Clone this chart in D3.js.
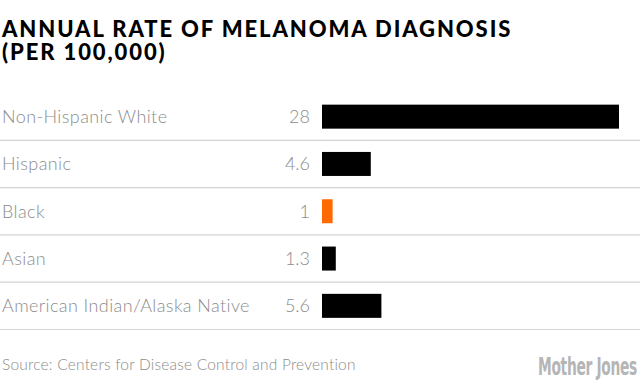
<!DOCTYPE html>
<html>
<head>
<meta charset="utf-8">
<script src="https://cdn.jsdelivr.net/npm/d3@7"></script>
<style>
  body { margin: 0; background: #fff; }
</style>
</head>
<body>
<div id="chart"></div>
<script>
const groups = ["Non-Hispanic White", "Hispanic", "Black", "Asian", "American Indian/Alaska Native"];
const rates = [28, 4.6, 1, 1.3, 5.6];
const rateLabels = ["28", "4.6", "1", "1.3", "5.6"];
const highlight = ["Black"];
const titleLines = ["ANNUAL RATE OF MELANOMA DIAGNOSIS", "(PER 100,000)"];

const width = 642, height = 389;

const svg = d3.select("#chart").append("svg")
  .attr("width", width)
  .attr("height", height);

// title, one text per line
svg.selectAll(".title")
  .data(titleLines)
  .join("text")
  .attr("class", "title")
  .attr("x", 2)
  .attr("y", (d, i) => 36.5 + i * 23)
  .attr("font-family", "Lato")
  .attr("font-weight", 900)
  .attr("font-size", 22)
  .attr("letter-spacing", 1.9)
  .attr("fill", "#000")
  .text(d => d);

// scales
const y = d3.scaleBand()
  .domain(groups)
  .range([93, 329.5])
  .paddingInner(0);

const x = d3.scaleLinear()
  .domain([0, 28])
  .range([322, 619]);

const barH = 24;

const rows = svg.append("g")
  .selectAll("g")
  .data(groups)
  .join("g")
  .attr("transform", d => `translate(0,${y(d)})`);

rows.append("line")
  .attr("x1", 0)
  .attr("x2", 640)
  .attr("y1", y.bandwidth())
  .attr("y2", y.bandwidth())
  .attr("stroke", "#d4d4d4")
  .attr("stroke-width", 1.2);

rows.append("text")
  .attr("x", 2)
  .attr("y", y.bandwidth() / 2 + 6.5)
  .attr("font-family", "Lato")
  .attr("font-weight", 300)
  .attr("font-size", 18)
  .attr("letter-spacing", 0.4)
  .attr("fill", "#8c8c8c")
  .text(d => d);

rows.append("text")
  .attr("x", 310)
  .attr("y", y.bandwidth() / 2 + 6.5)
  .attr("text-anchor", "end")
  .attr("font-family", "Lato")
  .attr("font-weight", 300)
  .attr("font-size", 18)
  .attr("fill", "#8c8c8c")
  .text((d, i) => rateLabels[i]);

rows.append("rect")
  .attr("x", x(0))
  .attr("y", (y.bandwidth() - barH) / 2)
  .attr("width", (d, i) => x(rates[i]) - x(0))
  .attr("height", barH)
  .attr("fill", d => highlight.includes(d) ? "#ff6a00" : "#000");

// footer
svg.append("text")
  .attr("x", 2)
  .attr("y", 370)
  .attr("font-family", "Lato")
  .attr("font-weight", 300)
  .attr("font-size", 15.5)
  .attr("letter-spacing", 0.2)
  .attr("fill", "#8c8c8c")
  .text("Source: Centers for Disease Control and Prevention");

// logo: condensed by squeezing horizontally to 99px
const logo = svg.append("text")
  .attr("x", 0)
  .attr("y", 0)
  .attr("font-family", "Liberation Sans Narrow, DejaVu Sans Condensed")
  .attr("font-weight", 700)
  .attr("font-size", 25)
  .attr("letter-spacing", -0.5)
  .attr("fill", "#b5b5b5")
  .text("Mother Jones");
const natural = logo.node().getComputedTextLength();
logo.attr("transform", `translate(538,375) scale(${99 / natural},1)`);
</script>
</body>
</html>
